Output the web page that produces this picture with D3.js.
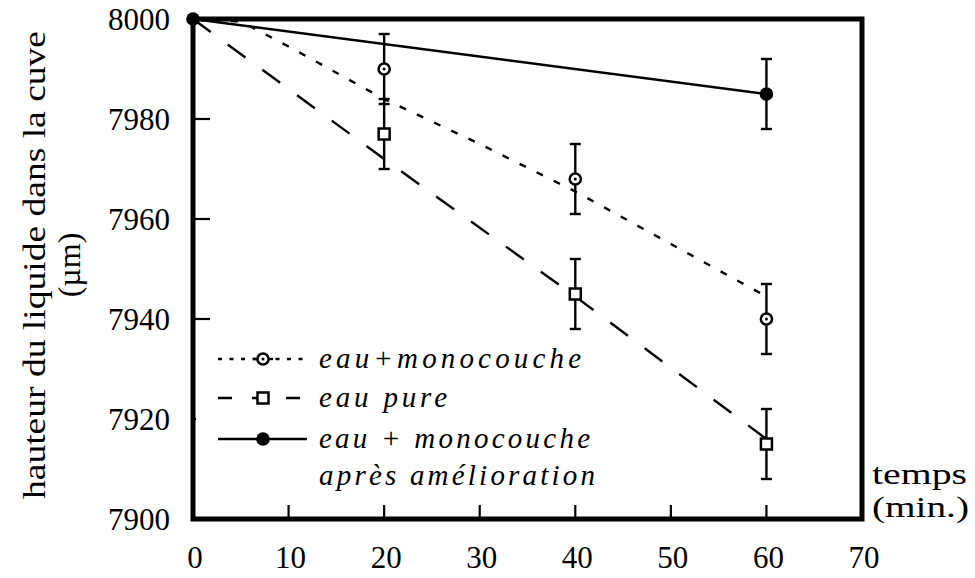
<!DOCTYPE html>
<html>
<head>
<meta charset="utf-8">
<script src="https://cdn.jsdelivr.net/npm/d3@7"></script>
<style>
  html, body { margin: 0; padding: 0; background: #fff; }
  svg { display: block; }
  text { font-family: "Liberation Serif", "DejaVu Serif", serif; fill: #000; }
</style>
</head>
<body>
<svg id="chart" width="975" height="578"></svg>
<script>
// Measured points (time in minutes, liquid height in µm) with error half-widths
const times = [0, 20, 40, 60];
const monoValues = [8000, 7990, 7968, 7940];
const monoErr = [0, 7, 7, 7];
const pureValues = [8000, 7977, 7945, 7915];
const pureErr = [0, 7, 7, 7];
const improvedTimes = [0, 60];
const improvedValues = [8000, 7985];
const improvedErr = [0, 7];

// Trend curves drawn through each series
const monoFitTimes = [0, 5, 10, 20, 30, 40, 50, 60];
const monoFitValues = [8000, 7999.5, 7994.5, 7984, 7975, 7965.5, 7955, 7944.5];
const pureFitTimes = [0, 20, 40, 60];
const pureFitValues = [8000, 7972, 7944.5, 7916];

// Axis ticks
const xTicks = [0, 10, 20, 30, 40, 50, 60, 70];
const yTicks = [7900, 7920, 7940, 7960, 7980, 8000];

const legendLabels = ["eau+monocouche", "eau pure", "eau + monocouche", "après amélioration"];

const svg = d3.select("#chart");
const plotLeft = 193, plotRight = 862, plotTop = 19, plotBottom = 519;

const x = d3.scaleLinear().domain([0, 70]).range([plotLeft, plotRight]);
const y = d3.scaleLinear().domain([7900, 8000]).range([plotBottom, plotTop]);

const line = d3.line().x(d => x(d[0])).y(d => y(d[1]));

// Tick marks, pointing inward
svg.append("g").selectAll("line")
  .data(yTicks.filter(v => v > 7900 && v < 8000))
  .join("line")
  .attr("x1", plotLeft).attr("x2", plotLeft + 17)
  .attr("y1", d => y(d)).attr("y2", d => y(d))
  .attr("stroke", "#000").attr("stroke-width", 2.2);

svg.append("g").selectAll("line")
  .data(xTicks.filter(v => v > 0 && v < 70))
  .join("line")
  .attr("x1", d => x(d)).attr("x2", d => x(d))
  .attr("y1", plotBottom).attr("y2", plotBottom - 14)
  .attr("stroke", "#000").attr("stroke-width", 2.2);

// Tick labels
svg.append("g").selectAll("text")
  .data(yTicks)
  .join("text")
  .attr("x", 170).attr("y", d => y(d)).attr("dy", "0.35em")
  .attr("text-anchor", "end").attr("font-size", 31)
  .text(d => d);

svg.append("g").selectAll("text")
  .data(xTicks)
  .join("text")
  .attr("x", d => x(d) + 2).attr("y", 568)
  .attr("text-anchor", "middle").attr("font-size", 31)
  .text(d => d);

// Axis titles
const yTitle = svg.append("g").attr("transform", "translate(45,265) rotate(-90)");
yTitle.append("text").attr("text-anchor", "middle").attr("font-size", 31)
  .attr("textLength", 468).attr("lengthAdjust", "spacingAndGlyphs")
  .text("hauteur du liquide dans la cuve");
yTitle.append("text").attr("y", 35).attr("text-anchor", "middle").attr("font-size", 32)
  .text("(µm)");

svg.append("text").attr("x", 872).attr("y", 484).attr("font-size", 29)
  .attr("textLength", 95).attr("lengthAdjust", "spacingAndGlyphs").text("temps");
svg.append("text").attr("x", 872).attr("y", 517).attr("font-size", 29)
  .attr("textLength", 97).attr("lengthAdjust", "spacingAndGlyphs").text("(min.)");

// Trend curves
svg.append("path")
  .datum(monoFitTimes.map((t, i) => [t, monoFitValues[i]]))
  .attr("d", line).attr("fill", "none").attr("stroke", "#000")
  .attr("stroke-width", 2.4).attr("stroke-dasharray", "7,12");

svg.append("path")
  .datum(pureFitTimes.map((t, i) => [t, pureFitValues[i]]))
  .attr("d", line).attr("fill", "none").attr("stroke", "#000")
  .attr("stroke-width", 2.4).attr("stroke-dasharray", "22,21");

svg.append("path")
  .datum(improvedTimes.map((t, i) => [t, improvedValues[i]]))
  .attr("d", line).attr("fill", "none").attr("stroke", "#000")
  .attr("stroke-width", 2.4);

// Error bars
function errorBars(ts, vs, es) {
  const g = svg.append("g").attr("stroke", "#000").attr("stroke-width", 2.4);
  ts.forEach((t, i) => {
    if (!es[i]) return;
    const cx = x(t), y1 = y(vs[i] + es[i]), y2 = y(vs[i] - es[i]);
    g.append("line").attr("x1", cx).attr("x2", cx).attr("y1", y1).attr("y2", y2);
    g.append("line").attr("x1", cx - 5.5).attr("x2", cx + 5.5).attr("y1", y1).attr("y2", y1);
    g.append("line").attr("x1", cx - 5.5).attr("x2", cx + 5.5).attr("y1", y2).attr("y2", y2);
  });
}
errorBars(times, monoValues, monoErr);
errorBars(times, pureValues, pureErr);
errorBars(improvedTimes, improvedValues, improvedErr);

// Legend box
svg.append("rect").attr("x", plotLeft + 3).attr("y", 336).attr("width", 410).attr("height", 164)
  .attr("fill", "#fff");

// Frame
svg.append("rect").attr("x", plotLeft).attr("y", plotTop)
  .attr("width", plotRight - plotLeft).attr("height", plotBottom - plotTop)
  .attr("fill", "none").attr("stroke", "#000").attr("stroke-width", 5);

// Markers
function dotCircle(g, cx, cy) {
  g.append("circle").attr("cx", cx).attr("cy", cy).attr("r", 5.6)
    .attr("fill", "#fff").attr("stroke", "#000").attr("stroke-width", 2.5);
  g.append("circle").attr("cx", cx).attr("cy", cy).attr("r", 1.5).attr("fill", "#000");
}
function square(g, cx, cy) {
  g.append("rect").attr("x", cx - 5.5).attr("y", cy - 5.5).attr("width", 11).attr("height", 11)
    .attr("fill", "#fff").attr("stroke", "#000").attr("stroke-width", 2.5);
}
function filled(g, cx, cy) {
  g.append("circle").attr("cx", cx).attr("cy", cy).attr("r", 6.8).attr("fill", "#000");
}

const marks = svg.append("g");
times.forEach((t, i) => { if (t > 0) dotCircle(marks, x(t), y(monoValues[i])); });
times.forEach((t, i) => { if (t > 0) square(marks, x(t), y(pureValues[i])); });
improvedTimes.forEach((t, i) => filled(marks, x(t), y(improvedValues[i])));

// Legend
const lg = svg.append("g");
const lx1 = 218, lx2 = 307, lmx = 263;
const rows = [359, 398, 439];
lg.append("line").attr("x1", lx1).attr("x2", lx2).attr("y1", rows[0]).attr("y2", rows[0])
  .attr("stroke", "#000").attr("stroke-width", 2.4).attr("stroke-dasharray", "4,7.5");
lg.append("line").attr("x1", lmx - 10).attr("x2", lmx + 10).attr("y1", rows[0]).attr("y2", rows[0])
  .attr("stroke", "#000").attr("stroke-width", 2.4);
dotCircle(lg, lmx, rows[0]);
lg.append("line").attr("x1", lx1).attr("x2", lx2).attr("y1", rows[1]).attr("y2", rows[1])
  .attr("stroke", "#000").attr("stroke-width", 2.4).attr("stroke-dasharray", "14,20");
square(lg, lmx, rows[1]);
lg.append("line").attr("x1", lx1).attr("x2", lx2).attr("y1", rows[2]).attr("y2", rows[2])
  .attr("stroke", "#000").attr("stroke-width", 2.4);
filled(lg, lmx, rows[2]);

const legendBase = [368, 407, 448, 485];
const legendWidth = [262, 128, 271, 276];
legendLabels.forEach((s, i) => {
  lg.append("text").attr("x", 319).attr("y", legendBase[i])
    .attr("font-size", 29).attr("font-style", "italic")
    .attr("textLength", legendWidth[i]).attr("lengthAdjust", "spacing")
    .text(s);
});
</script>
</body>
</html>
